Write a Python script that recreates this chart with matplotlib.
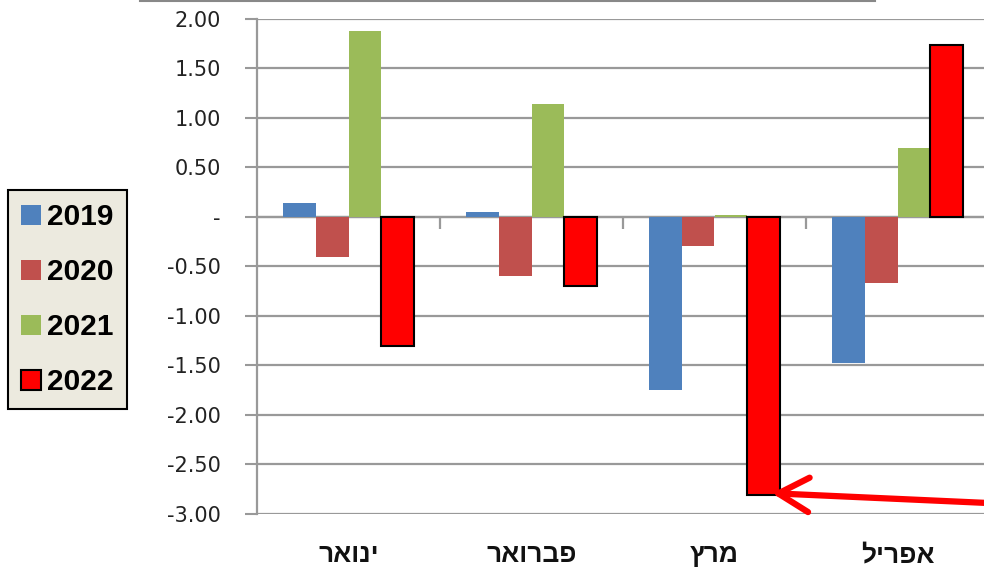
import numpy as np
import matplotlib.pyplot as plt
from matplotlib.patches import Patch
from matplotlib.lines import Line2D

months = ['ינואר', 'פברואר', 'מרץ', 'אפריל']
years = ['2019', '2020', '2021', '2022']
v2019 = [0.14, 0.05, -1.75, -1.47]
v2020 = [-0.40, -0.60, -0.29, -0.67]
v2021 = [1.88, 1.14, 0.02, 0.70]
v2022 = [-1.30, -0.70, -2.81, 1.74]
yticks = [2.0, 1.5, 1.0, 0.5, 0.0, -0.5, -1.0, -1.5, -2.0, -2.5, -3.0]

colors = ['#4F81BD', '#C0504D', '#9BBB59', '#FF0000']

fig = plt.figure(figsize=(9.84, 5.70), dpi=100)
W, H = 984, 570
ax = fig.add_axes([257 / W, (H - 514) / H, (989 - 257) / W, (514 - 19) / H])

x = np.arange(len(months))
bw = 0.18
series = [v2019, v2020, v2021, v2022]
for i, vals in enumerate(series):
    off = (i - 1.5) * bw
    if i == 3:
        ax.bar(x + off, vals, bw, color=colors[i], edgecolor='black', linewidth=1.5, zorder=3)
    else:
        ax.bar(x + off, vals, bw, color=colors[i], linewidth=0, zorder=3)

ax.set_xlim(-0.5, 3.5)
ax.set_ylim(-3, 2)

# grid and axis styling
ax.set_yticks(yticks)
ax.set_yticklabels(['-' if t == 0 else f'{t:.2f}' for t in yticks], fontsize=15, color='#222222')
ax.yaxis.grid(True, color='#999999', linewidth=1.6, zorder=0)
ax.set_axisbelow(True)
ax.tick_params(axis='y', length=9, width=1.5, color='#999999', pad=17)
for s in ['top', 'right', 'bottom']:
    ax.spines[s].set_visible(False)
ax.spines['left'].set_color('#999999')
ax.spines['left'].set_linewidth(1.6)

# zero line with category tick marks
ax.axhline(0, color='#999999', linewidth=1.6, zorder=2)
ax.vlines(x[:-1] + 0.5, -0.12, 0, color='#999999', linewidth=1.6, zorder=2)

# hebrew labels (reversed for right-to-left display)
ax.set_xticks(x)
ax.set_xticklabels([m[::-1] for m in months], fontsize=19, fontweight='bold',
                   family='Liberation Sans', color='#111111')
ax.tick_params(axis='x', length=0, pad=21)

# arrow pointing to march 2022
ax.annotate('', xy=(2.314, -2.79), xytext=(1010, 66), textcoords='figure pixels',
            annotation_clip=False,
            arrowprops=dict(arrowstyle='->, head_length=1.1, head_width=0.62',
                            mutation_scale=20, color='#FF0000', linewidth=4.5,
                            capstyle='round', joinstyle='round', shrinkA=0, shrinkB=0))

# legend
handles = []
for i, y in enumerate(years):
    if i == 3:
        handles.append(Patch(facecolor=colors[i], edgecolor='black', linewidth=1.5, label=y))
    else:
        handles.append(Patch(facecolor=colors[i], edgecolor='none', label=y))
leg = fig.legend(handles=handles, loc='upper left', bbox_to_anchor=(8 / W, 1 - 190 / H),
                 prop={'family': 'Liberation Sans', 'weight': 'bold', 'size': 21.5},
                 handlelength=0.65, handleheight=0.65, handletextpad=0.2,
                 labelspacing=0.9, borderpad=0.45, borderaxespad=0,
                 fancybox=False, framealpha=1)
leg.get_frame().set_facecolor('#ECEADF')
leg.get_frame().set_edgecolor('black')
leg.get_frame().set_linewidth(1.5)

# thin frame line at the top
fig.add_artist(Line2D([140 / W, 875 / W], [1 - 1 / H, 1 - 1 / H], color='#888888', linewidth=1.5))

fig.savefig('out.png', dpi=100)
